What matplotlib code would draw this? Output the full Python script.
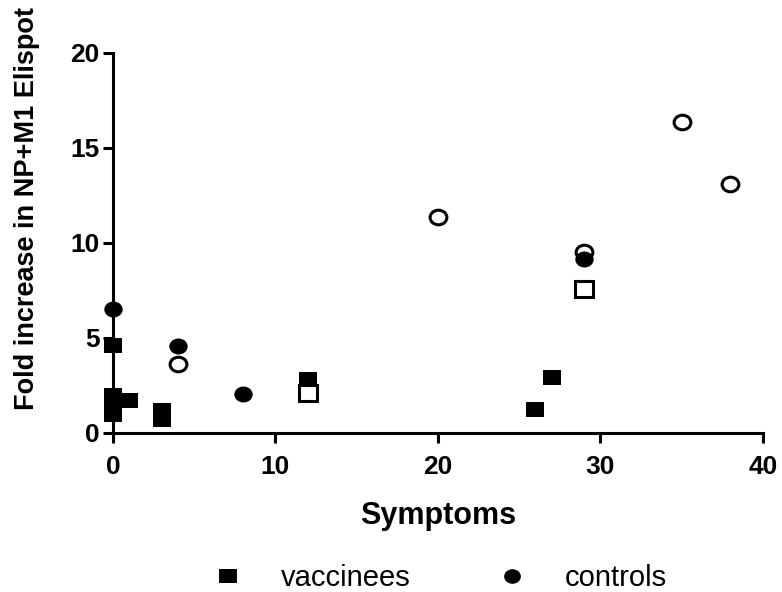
import matplotlib
matplotlib.use("Agg")
import matplotlib.pyplot as plt
from matplotlib.markers import MarkerStyle
from matplotlib.transforms import Affine2D
from matplotlib.lines import Line2D

plt.rcParams['font.family'] = ['Liberation Sans', 'DejaVu Sans']

# Symptom scores and fold increases
vacc_x = [0, 0, 0, 0, 1, 3, 3, 12, 26, 27]
vacc_y = [4.65, 2.0, 1.35, 1.0, 1.75, 1.2, 0.75, 2.85, 1.25, 2.95]

vacc_open_x = [12, 29]
vacc_open_y = [2.1, 7.6]

ctrl_x = [0, 4, 8, 29]
ctrl_y = [6.55, 4.6, 2.05, 9.15]

ctrl_open_x = [4, 20, 29, 35, 38]
ctrl_open_y = [3.65, 11.35, 9.5, 16.35, 13.1]

x_ticks = [0, 10, 20, 30, 40]
y_ticks = [0, 5, 10, 15, 20]

sq = MarkerStyle('s', transform=Affine2D().scale(1.2, 1.0))
ci = MarkerStyle('o', transform=Affine2D().scale(1.15, 1.0))

fig = plt.figure(figsize=(7.82, 5.92), dpi=100)
ax = fig.add_axes([0.1445, 0.2686, 0.8312, 0.6419])

ax.plot(vacc_x, vacc_y, linestyle='none', marker=sq, ms=10.8,
        mfc='black', mec='black', mew=0, clip_on=False, zorder=3)
ax.plot(vacc_open_x, vacc_open_y, linestyle='none', marker=sq, ms=11,
        mfc='white', mec='black', mew=2.2, clip_on=False, zorder=3)
ax.plot(ctrl_open_x, ctrl_open_y, linestyle='none', marker=ci, ms=10.5,
        mfc='white', mec='black', mew=2.2, clip_on=False, zorder=3)
ax.plot(ctrl_x, ctrl_y, linestyle='none', marker=ci, ms=11.5,
        mfc='black', mec='black', mew=0, clip_on=False, zorder=4)

ax.set_xlim(0, 40)
ax.set_ylim(0, 20)
ax.set_xticks(x_ticks)
ax.set_yticks(y_ticks)
ax.set_xticklabels([str(t) for t in x_ticks], fontsize=19, fontweight='bold')
ax.set_yticklabels([str(t) for t in y_ticks], fontsize=19, fontweight='bold')

for s in ['top', 'right']:
    ax.spines[s].set_visible(False)
for s in ['left', 'bottom']:
    ax.spines[s].set_linewidth(2.2)
ax.tick_params(axis='both', direction='out', length=7.5, width=2.2)
ax.tick_params(axis='x', pad=8)
ax.tick_params(axis='y', pad=2)

ax.set_xlabel('Symptoms', fontsize=22, fontweight='bold')
ax.xaxis.set_label_coords(0.5, -0.18)
ax.set_ylabel('Fold increase in NP+M1 Elispot', fontsize=19.5, fontweight='bold')
ax.yaxis.set_label_coords(-0.113, 0.59)

handles = [
    Line2D([], [], linestyle='none', marker=sq, ms=10.5, mfc='black', mec='black', mew=0),
    Line2D([], [], linestyle='none', marker=ci, ms=10.5, mfc='black', mec='black', mew=0),
]
fig.legend(handles, ['vaccinees', 'controls'], loc='center left', ncol=2,
           bbox_to_anchor=(0.273, 0.024), frameon=False, fontsize=21,
           borderpad=0, borderaxespad=0,
           handlelength=1.0, handletextpad=1.3, columnspacing=3.0)

fig.savefig('out.png', dpi=100)
